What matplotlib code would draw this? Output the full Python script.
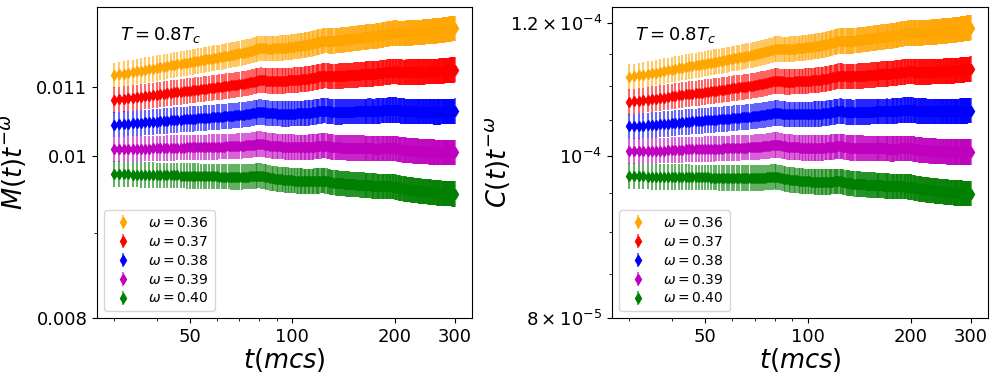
import numpy as np
import matplotlib
matplotlib.use("Agg")
import matplotlib.pyplot as plt
from matplotlib.ticker import NullFormatter

# measurement times (mcs)
t = np.arange(30, 301)

omegas = [0.36, 0.37, 0.38, 0.39, 0.40]
colors = ["orange", "red", "blue", "m", "green"]

# M(t) t^-0.38, in units of 1e-5
m_038 = [
    1044.3, 1044.8, 1045.2, 1045.6, 1046.1, 1046.5, 1046.9, 1047.4, 1047.8, 1048.2,
    1048.6, 1049.1, 1049.5, 1049.9, 1050.4, 1050.8, 1051.1, 1051.4, 1051.7, 1052.0,
    1052.3, 1052.6, 1052.9, 1053.2, 1053.5, 1053.7, 1054.0, 1054.3, 1054.6, 1054.9,
    1055.2, 1055.5, 1055.8, 1056.1, 1056.4, 1056.6, 1056.9, 1057.2, 1057.5, 1057.8,
    1058.1, 1058.4, 1058.8, 1059.2, 1059.6, 1060.0, 1060.5, 1061.0, 1061.6, 1062.2,
    1062.6, 1062.6, 1062.3, 1061.9, 1061.5, 1061.1, 1060.8, 1060.6, 1060.5, 1060.4,
    1060.3, 1060.2, 1060.2, 1060.1, 1060.1, 1060.0, 1060.0, 1060.1, 1060.1, 1060.2,
    1060.2, 1060.3, 1060.3, 1060.4, 1060.5, 1060.6, 1060.7, 1060.8, 1060.9, 1061.0,
    1061.0, 1061.2, 1061.4, 1061.6, 1061.9, 1062.2, 1062.5, 1062.8, 1063.1, 1063.4,
    1063.7, 1064.0, 1064.3, 1064.5, 1064.6, 1064.6, 1064.4, 1064.1, 1063.8, 1063.5,
    1063.3, 1063.2, 1063.1, 1063.0, 1063.0, 1062.9, 1062.9, 1062.9, 1063.0, 1063.0,
    1063.0, 1063.1, 1063.1, 1063.1, 1063.2, 1063.2, 1063.2, 1063.2, 1063.2, 1063.2,
    1063.2, 1063.3, 1063.3, 1063.4, 1063.4, 1063.5, 1063.5, 1063.6, 1063.6, 1063.7,
    1063.7, 1063.8, 1063.8, 1063.8, 1063.9, 1063.9, 1063.9, 1064.0, 1064.0, 1064.0,
    1064.0, 1063.9, 1063.9, 1063.9, 1063.9, 1063.9, 1064.0, 1064.0, 1064.1, 1064.2,
    1064.3, 1064.4, 1064.5, 1064.6, 1064.7, 1064.8, 1064.9, 1065.0, 1065.1, 1065.2,
    1065.3, 1065.4, 1065.5, 1065.5, 1065.6, 1065.6, 1065.7, 1065.7, 1065.8, 1065.8,
    1065.8, 1065.6, 1065.4, 1065.2, 1065.0, 1064.8, 1064.6, 1064.5, 1064.4, 1064.3,
    1064.2, 1064.1, 1064.0, 1064.0, 1063.9, 1063.9, 1063.9, 1063.8, 1063.8, 1063.8,
    1063.8, 1063.7, 1063.7, 1063.6, 1063.6, 1063.6, 1063.5, 1063.5, 1063.5, 1063.4,
    1063.4, 1063.4, 1063.3, 1063.3, 1063.3, 1063.2, 1063.2, 1063.2, 1063.2, 1063.1,
    1063.1, 1063.1, 1063.1, 1063.1, 1063.1, 1063.1, 1063.2, 1063.2, 1063.2, 1063.2,
    1063.2, 1063.2, 1063.2, 1063.2, 1063.1, 1063.1, 1063.1, 1063.1, 1063.1, 1063.1,
    1063.0, 1063.0, 1063.0, 1063.0, 1063.0, 1063.0, 1063.0, 1063.0, 1063.0, 1063.0,
    1063.0, 1063.0, 1063.0, 1063.1, 1063.1, 1063.1, 1063.2, 1063.2, 1063.2, 1063.3,
    1063.3, 1063.3, 1063.4, 1063.4, 1063.4, 1063.5, 1063.5, 1063.5, 1063.6, 1063.6,
    1063.6, 1063.7, 1063.7, 1063.7, 1063.8, 1063.8, 1063.8, 1063.9, 1063.9, 1063.9,
    1064.0,
]

# C(t) t^-0.38, in units of 1e-7
c_038 = [
    1040.9, 1041.4, 1041.8, 1042.2, 1042.7, 1043.1, 1043.5, 1044.0, 1044.4, 1044.8,
    1045.6, 1046.1, 1046.5, 1046.9, 1047.4, 1047.8, 1048.1, 1048.4, 1048.7, 1049.0,
    1049.6, 1049.9, 1050.2, 1050.5, 1050.8, 1051.0, 1051.3, 1051.6, 1051.9, 1052.2,
    1052.8, 1053.1, 1053.4, 1053.7, 1054.0, 1054.2, 1054.5, 1054.8, 1055.1, 1055.4,
    1055.9, 1056.2, 1056.6, 1057.0, 1057.4, 1057.8, 1058.3, 1058.8, 1059.4, 1060.0,
    1060.6, 1060.6, 1060.3, 1059.9, 1059.5, 1059.1, 1058.8, 1058.6, 1058.5, 1058.4,
    1058.5, 1058.4, 1058.4, 1058.3, 1058.3, 1058.2, 1058.2, 1058.3, 1058.3, 1058.4,
    1058.5, 1058.6, 1058.6, 1058.7, 1058.8, 1058.9, 1059.0, 1059.1, 1059.2, 1059.3,
    1059.5, 1059.7, 1059.9, 1060.1, 1060.4, 1060.7, 1061.0, 1061.3, 1061.6, 1061.9,
    1062.3, 1062.6, 1062.9, 1063.1, 1063.2, 1063.2, 1063.0, 1062.7, 1062.4, 1062.1,
    1062.0, 1061.9, 1061.8, 1061.7, 1061.7, 1061.6, 1061.6, 1061.6, 1061.7, 1061.7,
    1061.8, 1061.9, 1061.9, 1061.9, 1062.0, 1062.0, 1062.0, 1062.0, 1062.0, 1062.0,
    1062.2, 1062.3, 1062.3, 1062.4, 1062.4, 1062.5, 1062.5, 1062.6, 1062.6, 1062.7,
    1062.8, 1062.9, 1062.9, 1062.9, 1063.0, 1063.0, 1063.0, 1063.1, 1063.1, 1063.1,
    1063.2, 1063.1, 1063.1, 1063.1, 1063.1, 1063.1, 1063.2, 1063.2, 1063.3, 1063.4,
    1063.5, 1063.6, 1063.7, 1063.8, 1063.9, 1064.0, 1064.1, 1064.2, 1064.3, 1064.4,
    1064.6, 1064.7, 1064.8, 1064.8, 1064.9, 1064.9, 1065.0, 1065.0, 1065.1, 1065.1,
    1065.2, 1065.0, 1064.8, 1064.6, 1064.4, 1064.2, 1064.0, 1063.9, 1063.8, 1063.7,
    1063.7, 1063.6, 1063.5, 1063.5, 1063.4, 1063.4, 1063.4, 1063.3, 1063.3, 1063.3,
    1063.3, 1063.2, 1063.2, 1063.1, 1063.1, 1063.1, 1063.0, 1063.0, 1063.0, 1062.9,
    1063.0, 1063.0, 1062.9, 1062.9, 1062.9, 1062.8, 1062.8, 1062.8, 1062.8, 1062.7,
    1062.8, 1062.8, 1062.8, 1062.8, 1062.8, 1062.8, 1062.9, 1062.9, 1062.9, 1062.9,
    1062.9, 1062.9, 1062.9, 1062.9, 1062.8, 1062.8, 1062.8, 1062.8, 1062.8, 1062.8,
    1062.8, 1062.8, 1062.8, 1062.8, 1062.8, 1062.8, 1062.8, 1062.8, 1062.8, 1062.8,
    1062.9, 1062.9, 1062.9, 1063.0, 1063.0, 1063.0, 1063.1, 1063.1, 1063.1, 1063.2,
    1063.2, 1063.2, 1063.3, 1063.3, 1063.3, 1063.4, 1063.4, 1063.4, 1063.5, 1063.5,
    1063.6, 1063.7, 1063.7, 1063.7, 1063.8, 1063.8, 1063.8, 1063.9, 1063.9, 1063.9,
    1064.0,
]

# relative error bar size (percent)
m_rel_err = 1.75
c_rel_err = 1.75

xticks = [50, 100, 200, 300]
xminor = [30, 40, 60, 70, 80, 90]

M = np.array(m_038) * 1e-5 * t ** 0.38
C = np.array(c_038) * 1e-7 * t ** 0.38

fig = plt.figure(figsize=(9.97, 3.8), dpi=100)
ax1 = fig.add_axes([0.0973, 0.1632, 0.3761, 0.8184])
ax2 = fig.add_axes([0.6138, 0.1632, 0.3771, 0.8184])


def draw(ax, base, rel_err):
    for w, c in zip(omegas, colors):
        y = base * t ** (-w)
        eb = ax.errorbar(t, y, yerr=y * rel_err / 100, fmt="d", color=c, ms=5,
                         elinewidth=1.5, label=r"$\omega=%.2f$" % w)
        eb[2][0].set_alpha(0.6)
    ax.set_xscale("log")
    ax.set_yscale("log")
    ax.set_xticks(xticks)
    ax.set_xticklabels([str(v) for v in xticks])
    ax.set_xticks(xminor, minor=True)
    ax.xaxis.set_minor_formatter(NullFormatter())
    ax.tick_params(labelsize=13)
    ax.set_xlabel(r"$t(mcs)$", fontsize=18.5, labelpad=0)
    ax.text(0.06, 0.91, r"$T=0.8T_c$", transform=ax.transAxes, fontsize=13, va="center")
    ax.legend(loc="lower left", fontsize=10, labelspacing=0.35)


draw(ax1, M, m_rel_err)
ax1.set_ylim(0.008, 0.01228)
ax1.set_yticks([0.008, 0.01, 0.011])
ax1.set_yticklabels(["0.008", "0.01", "0.011"])
ax1.set_yticks([0.009], minor=True)
ax1.yaxis.set_minor_formatter(NullFormatter())
ax1.set_ylabel(r"$M(t)t^{-\omega}$", fontsize=18.5)
ax1.yaxis.set_label_coords(-0.184, 0.5)

draw(ax2, C, c_rel_err)
ax2.set_ylim(8e-5, 1.2267e-4)
ax2.set_yticks([8e-5, 1e-4, 1.2e-4])
ax2.set_yticklabels([r"$8\times10^{-5}$", r"$10^{-4}$", r"$1.2\times10^{-4}$"])
ax2.set_yticks([8.5e-5, 9e-5, 9.5e-5, 1.05e-4, 1.1e-4, 1.15e-4], minor=True)
ax2.yaxis.set_minor_formatter(NullFormatter())
ax2.set_ylabel(r"$C(t)t^{-\omega}$", fontsize=18.5)
ax2.yaxis.set_label_coords(-0.266, 0.5)

fig.savefig("out.png", dpi=100)
